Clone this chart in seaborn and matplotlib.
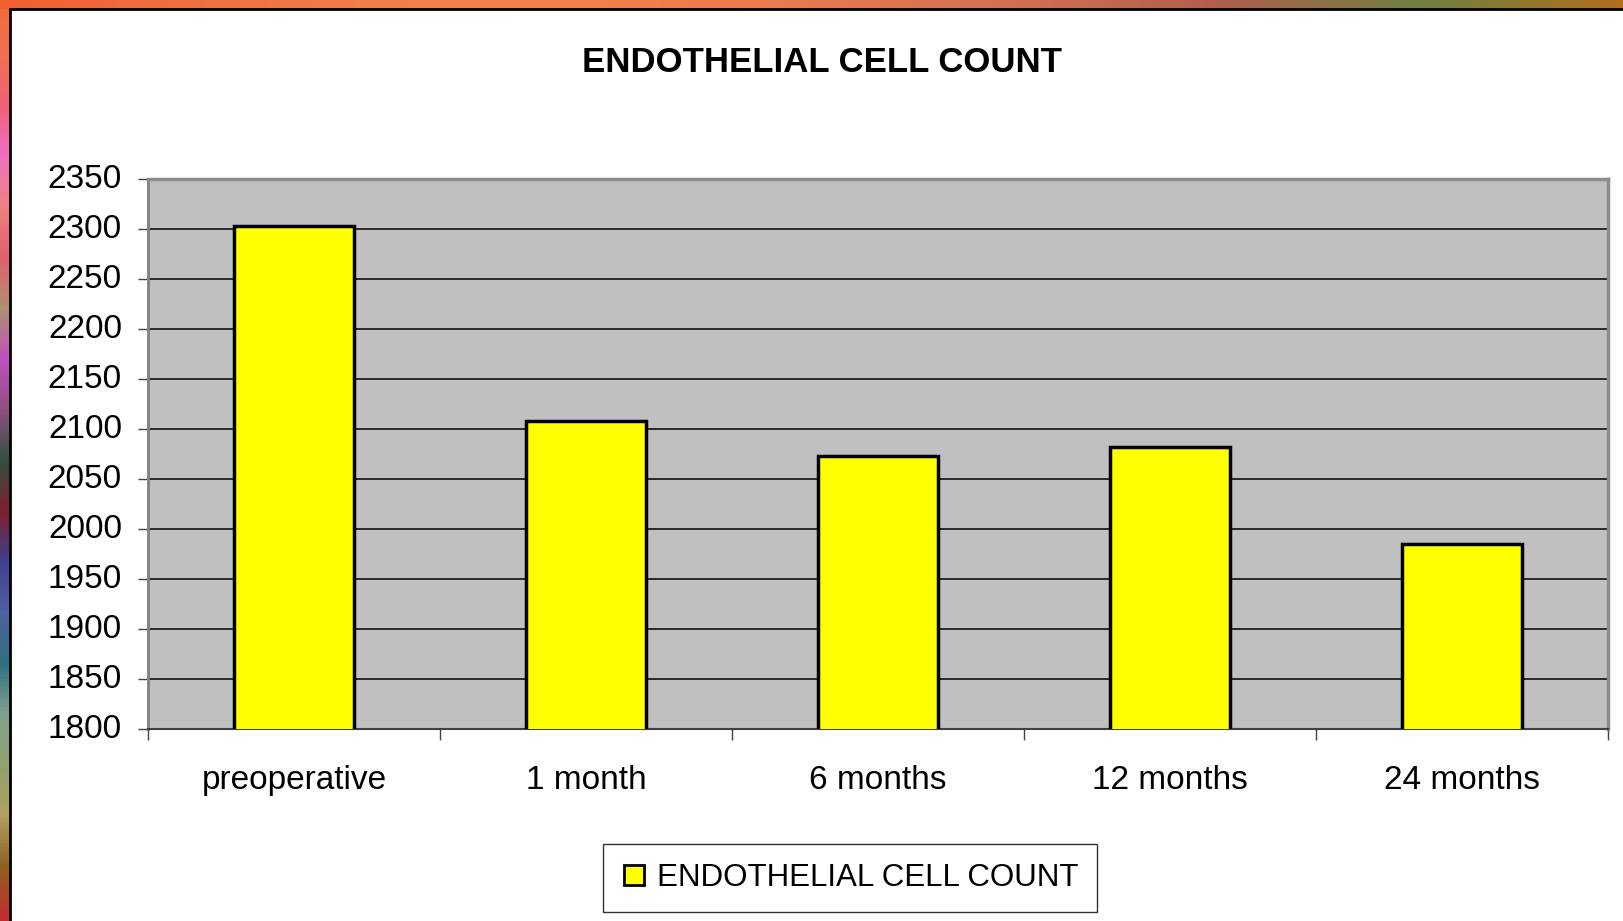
import numpy as np
import matplotlib
matplotlib.use("Agg")
import matplotlib.pyplot as plt
import matplotlib.transforms as mtransforms
from matplotlib.colors import LinearSegmentedColormap
from matplotlib.lines import Line2D
from matplotlib.patches import Rectangle
from matplotlib.ticker import FixedLocator
import seaborn as sns

"""Endothelial cell count bar chart, Excel style"""

categories = ["preoperative", "1 month", "6 months", "12 months", "24 months"]
cell_count = [2303, 2108, 2073, 2082, 1985]
y_ticks = [1800, 1850, 1900, 1950, 2000, 2050, 2100, 2150, 2200, 2250, 2300, 2350]
series_name = "ENDOTHELIAL CELL COUNT"

# slide background colours peeking out at the left and top edges
left_edge_colors = ["#f06a3a", "#f07050", "#f06078", "#f070c0", "#f08080", "#e06070",
                    "#b09070", "#c050c0", "#905080", "#305040", "#802030", "#404090",
                    "#5060a0", "#307080", "#80a090", "#90a070", "#b0a060", "#906020",
                    "#c03030"]
top_edge_colors = ["#f06030", "#f07040", "#f08048", "#f0804a", "#e87850", "#d07050",
                   "#b06050", "#708040", "#b07020"]

W, H = 1623, 921
sns.set_theme(style="white")
plt.rcParams["font.family"] = ["Liberation Sans", "DejaVu Sans"]

fig = plt.figure(figsize=(W / 100, H / 100), dpi=100)
fig.patch.set_facecolor("white")

# coloured strips behind the white slide panel
ax_left = fig.add_axes([0, 0, 10 / W, 1], zorder=-3)
ax_left.imshow(np.linspace(0, 1, 200).reshape(-1, 1),
               cmap=LinearSegmentedColormap.from_list("l", left_edge_colors),
               aspect="auto", interpolation="bilinear")
ax_left.set_axis_off()
ax_top = fig.add_axes([0, 1 - 9 / H, 1, 9 / H], zorder=-3)
ax_top.imshow(np.linspace(0, 1, 400).reshape(1, -1),
              cmap=LinearSegmentedColormap.from_list("t", top_edge_colors),
              aspect="auto", interpolation="bilinear")
ax_top.set_axis_off()

panel = Rectangle((10 / W, -0.05), 1.1, 1.05 - 9 / H, transform=fig.transFigure,
                  facecolor="white", edgecolor="black", linewidth=2, zorder=-2)
fig.patches.append(panel)

ax = fig.add_axes([148.3 / W, 1 - 729.3 / H, (1608 - 148.3) / W, (729.3 - 178.7) / H])
ax.set_facecolor("#c0c0c0")

sns.barplot(x=categories, y=cell_count, color="#ffff00", saturation=1,
            edgecolor="black", linewidth=2.5, width=0.41, ax=ax, zorder=3)

ax.set_ylim(y_ticks[0], y_ticks[-1])
ax.set_yticks(y_ticks)
ax.set_xlim(-0.5, len(categories) - 0.5)
ax.yaxis.grid(True, color="black", linewidth=1.1)
ax.set_axisbelow(True)

ax.tick_params(axis="y", left=True, length=7, width=1, color="#404040",
               labelsize=24, pad=12, labelcolor="black")
# Excel sits the value labels a touch above their gridline
lift = mtransforms.ScaledTranslation(0, 3 / 100, fig.dpi_scale_trans)
for lbl in ax.get_yticklabels():
    lbl.set_transform(lbl.get_transform() + lift)
ax.tick_params(axis="x", which="major", bottom=False, length=0,
               labelsize=24, pad=26, labelcolor="black")
ax.xaxis.set_minor_locator(FixedLocator(np.arange(len(categories) + 1) - 0.5))
ax.tick_params(axis="x", which="minor", bottom=True, length=8, width=1, color="#404040")

for side in ["top", "right"]:
    ax.spines[side].set_color("#8c8c8c")
    ax.spines[side].set_linewidth(2.5)
ax.spines["left"].set_color("#808080")
ax.spines["left"].set_linewidth(2)
ax.spines["bottom"].set_color("#404040")
ax.spines["bottom"].set_linewidth(1.5)
ax.set_xlabel("")
ax.set_ylabel("")

fig.text(822 / W, 1 - 63 / H, series_name, ha="center", va="center",
         fontsize=25, fontweight="bold", color="black")

handle = Line2D([], [], linestyle="none", marker="s", markersize=15,
                markerfacecolor="#ffff00", markeredgecolor="black", markeredgewidth=2)
leg = fig.legend([handle], [series_name], loc="center",
                 bbox_to_anchor=(850 / W, 1 - 878 / H), fontsize=22.5,
                 frameon=True, fancybox=False, handlelength=0.8, handletextpad=0.35,
                 borderpad=0.6, labelcolor="black")
leg.get_frame().set_edgecolor("black")
leg.get_frame().set_linewidth(1)

fig.savefig("out.png", dpi=100)
